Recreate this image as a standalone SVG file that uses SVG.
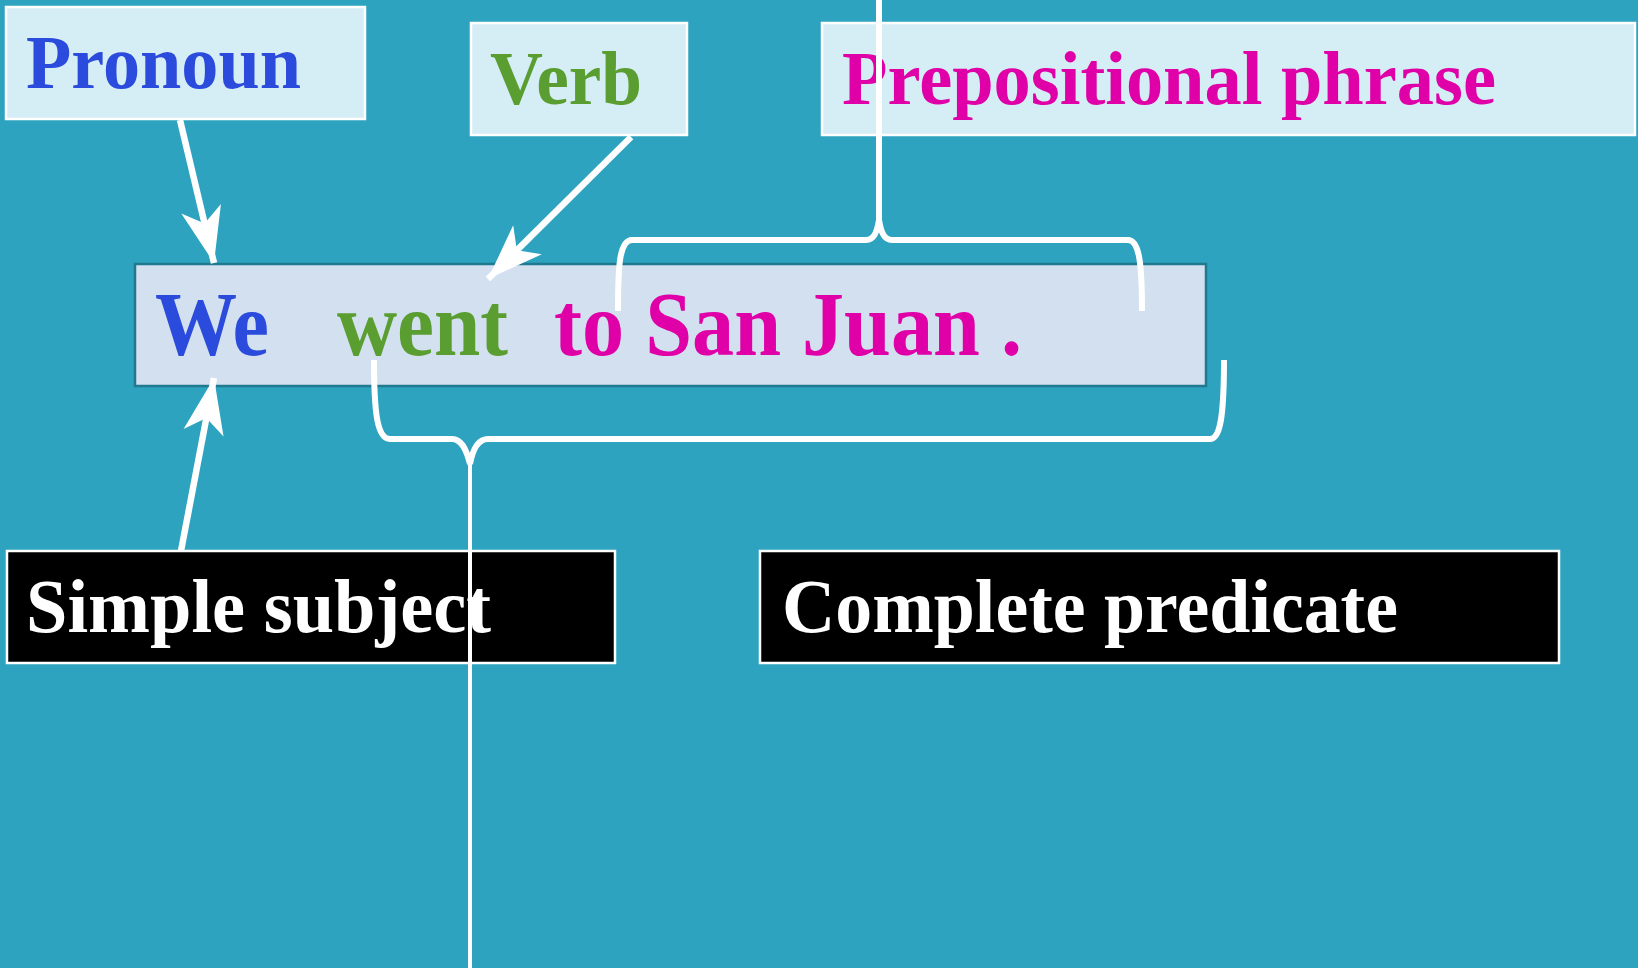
<svg xmlns="http://www.w3.org/2000/svg" width="1638" height="968" viewBox="0 0 1638 968">
<style>
.lbl{font-family:"Liberation Serif","Times New Roman",serif;font-weight:bold;font-size:77px}
.snt{font-family:"Liberation Serif","Times New Roman",serif;font-weight:bold;font-size:90px}
.box{fill:#D5EEF5;stroke:#FFFFFF;stroke-width:2.5}
.dark{fill:#000000;stroke:#FFFFFF;stroke-width:2.5}
.line{fill:none;stroke:#FFFFFF;stroke-width:6;stroke-linecap:butt;stroke-linejoin:round}
.arrow{fill:none;stroke:#FFFFFF;stroke-width:6.5}
</style>
<defs>
<marker id="ah" markerUnits="userSpaceOnUse" markerWidth="60" markerHeight="60" viewBox="-54 -22 56 44" refX="0" refY="0" orient="auto">
<path d="M0,0 L-52,-19 L-38,0 L-52,19 Z" fill="#FFFFFF"/>
</marker>
</defs>
<rect x="0" y="0" width="1638" height="968" fill="#2DA3C0"/>

<g id="sentence">
<rect x="135" y="264" width="1071" height="122" fill="#D3E0EF" stroke="#1F7A8F" stroke-width="2.5"/>
<text class="snt" x="155" y="355" fill="#2A4BDB" textLength="114" lengthAdjust="spacingAndGlyphs">We</text>
<text class="snt" x="337" y="355" fill="#5A9E32" textLength="171" lengthAdjust="spacingAndGlyphs">went</text>
<text class="snt" x="554" y="355" fill="#E000A8" textLength="468" lengthAdjust="spacingAndGlyphs">to San Juan .</text>
</g>

<g id="pronoun">
<rect class="box" x="6" y="7" width="359" height="112"/>
<text class="lbl" x="26" y="88" fill="#2A4BDB" textLength="275" lengthAdjust="spacingAndGlyphs">Pronoun</text>
</g>

<g id="verb">
<rect class="box" x="471" y="23" width="216" height="112"/>
<text class="lbl" x="490" y="104" fill="#5A9E32" textLength="152" lengthAdjust="spacingAndGlyphs">Verb</text>
</g>

<g id="prepositional-phrase">
<rect class="box" x="822" y="23" width="813" height="112"/>
<text class="lbl" x="842" y="104" fill="#E000A8" textLength="654" lengthAdjust="spacingAndGlyphs">Prepositional phrase</text>
</g>

<g id="simple-subject">
<rect class="dark" x="7" y="551" width="608" height="112"/>
<text class="lbl" x="26" y="632" fill="#FFFFFF" textLength="465" lengthAdjust="spacingAndGlyphs">Simple subject</text>
</g>

<g id="complete-predicate">
<rect class="dark" x="760" y="551" width="799" height="112"/>
<text class="lbl" x="782" y="632" fill="#FFFFFF" textLength="616" lengthAdjust="spacingAndGlyphs">Complete predicate</text>
</g>

<g id="connectors">
<line class="arrow" x1="180" y1="120" x2="214" y2="263" marker-end="url(#ah)"/>
<line class="arrow" x1="631" y1="137" x2="488" y2="279" marker-end="url(#ah)"/>
<line class="arrow" x1="181" y1="551" x2="214" y2="378" marker-end="url(#ah)"/>

<path class="line" d="M618,311 C618,268 619,240 632,240 L866,240 C874,240 877,232 879,220"/>
<path class="line" d="M879,220 C881,232 884,240 892,240 L1128,240 C1139,240 1142,262 1142,311"/>
<line class="line" x1="879" y1="0" x2="879" y2="222"/>

<path class="line" d="M374,360 C374,412 377,439 390,439 L452,439 C461,439 466,448 470,464"/>
<path class="line" d="M470,464 C473,448 478,439 488,439 L1210,439 C1220,439 1224,418 1224,360"/>
<line x1="470" y1="460" x2="470" y2="968" stroke="#FFFFFF" stroke-width="4"/>
</g>
</svg>
